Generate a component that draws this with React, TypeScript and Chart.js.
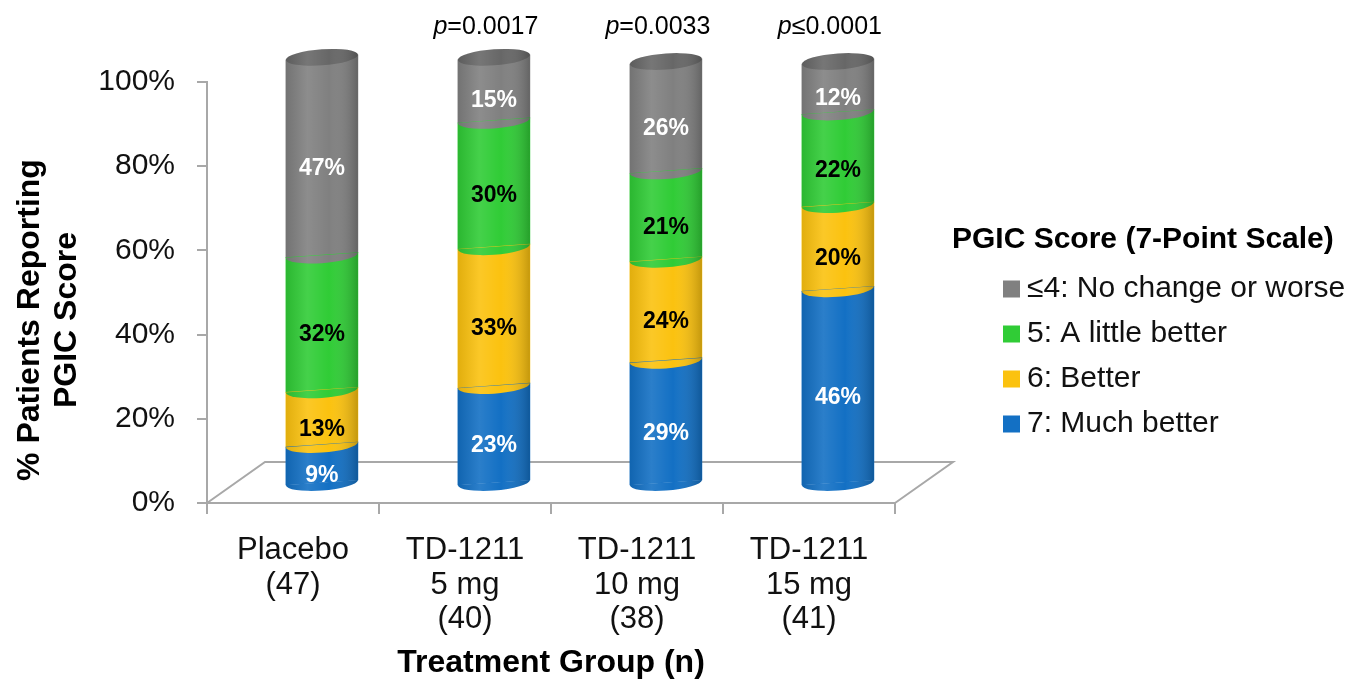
import React, { useEffect, useRef } from 'react';
import { Chart, registerables } from 'chart.js';

Chart.register(...registerables);

// ---------- data ----------
const categories = [
  ['Placebo', '(47)'],
  ['TD-1211', '5 mg', '(40)'],
  ['TD-1211', '10 mg', '(38)'],
  ['TD-1211', '15 mg', '(41)'],
];
const seriesNames = ['7: Much better', '6: Better', '5: A little better', '≤4: No change or worse'];
const muchBetter = [9, 23, 29, 46];
const better = [13, 33, 24, 20];
const littleBetter = [32, 30, 21, 22];
const noChangeOrWorse = [47, 15, 26, 12];
const pValues = ['', 'p=0.0017', 'p=0.0033', 'p≤0.0001'];
const yTicks = [0, 20, 40, 60, 80, 100];
const legendTitle = 'PGIC Score (7-Point Scale)';
const yTitle = ['% Patients Reporting', 'PGIC Score'];
const xTitle = 'Treatment Group (n)';

const seriesValues = [muchBetter, better, littleBetter, noChangeOrWorse];

// ---------- style ----------
const FONT = '"Liberation Sans", Arial, Helvetica, sans-serif';
const seriesColors = ['#1370c4', '#fbc20f', '#30cc36', '#808080'];
const labelColors = ['#ffffff', '#000000', '#000000', '#ffffff'];
const TOP_COLOR = '#676767';
const AXIS_COLOR = '#a8a8a8';
const DEPTH_X = 58;
const DEPTH_Y = 41;
const RY = 8;
const TILT = -0.07; // slight perspective shear of the cylinders
const Y_SHIFT = 4.87; // half floor depth, in % units
const X_SHIFT = 0.168; // half floor depth, in category units

function shadeGradient(ctx: CanvasRenderingContext2D, left: number, width: number) {
  const g = ctx.createLinearGradient(left, 0, left + width, 0);
  g.addColorStop(0, 'rgba(0,0,0,0.10)');
  g.addColorStop(0.3, 'rgba(255,255,255,0.10)');
  g.addColorStop(0.6, 'rgba(255,255,255,0)');
  g.addColorStop(1, 'rgba(0,0,0,0.22)');
  return g;
}

function shear(ctx: CanvasRenderingContext2D, cx: number) {
  ctx.transform(1, TILT, 0, 1, 0, -TILT * cx);
}

const cylinderPlugin = {
  id: 'cylinders',
  beforeDatasetsDraw(chart: any) {
    const ctx: CanvasRenderingContext2D = chart.ctx;
    const { left, right, bottom } = chart.chartArea;
    ctx.save();
    ctx.strokeStyle = AXIS_COLOR;
    ctx.lineWidth = 2;
    ctx.beginPath();
    ctx.moveTo(left, bottom);
    ctx.lineTo(left + DEPTH_X, bottom - DEPTH_Y);
    ctx.lineTo(right + DEPTH_X, bottom - DEPTH_Y);
    ctx.lineTo(right, bottom);
    ctx.stroke();
    ctx.restore();
    // draw every bar element with the cylinder's perspective shear
    chart.data.datasets.forEach((_: any, di: number) => {
      chart.getDatasetMeta(di).data.forEach((el: any) => {
        if (el.__sheared) return;
        const orig = el.draw.bind(el);
        el.draw = (c: CanvasRenderingContext2D, area: any) => {
          c.save();
          shear(c, el.x);
          orig(c, area);
          c.restore();
        };
        el.__sheared = true;
      });
    });
  },
  afterDatasetsDraw(chart: any) {
    const ctx: CanvasRenderingContext2D = chart.ctx;
    const n = chart.data.datasets.length;
    const getEls = (di: number) =>
      chart.getDatasetMeta(di).data.map((el: any) => el.getProps(['x', 'y', 'base', 'width'], true));
    // side shading of each segment
    for (let di = 0; di < n; di++) {
      getEls(di).forEach((p: any) => {
        const l = p.x - p.width / 2;
        ctx.save();
        shear(ctx, p.x);
        ctx.fillStyle = shadeGradient(ctx, l, p.width);
        ctx.fillRect(l, p.y, p.width, p.base - p.y);
        ctx.restore();
      });
    }
    // curved lower edges
    for (let di = 0; di < n; di++) {
      const color = chart.data.datasets[di].backgroundColor;
      getEls(di).forEach((p: any) => {
        const l = p.x - p.width / 2;
        ctx.save();
        shear(ctx, p.x);
        ctx.beginPath();
        ctx.ellipse(p.x, p.base, p.width / 2, RY, 0, 0, Math.PI);
        ctx.closePath();
        ctx.fillStyle = color;
        ctx.fill();
        ctx.fillStyle = shadeGradient(ctx, l, p.width);
        ctx.fill();
        ctx.restore();
      });
    }
    // top caps
    getEls(n - 1).forEach((p: any) => {
      const l = p.x - p.width / 2;
      ctx.save();
      shear(ctx, p.x);
      ctx.beginPath();
      ctx.ellipse(p.x, p.y, p.width / 2, RY, 0, 0, Math.PI * 2);
      ctx.fillStyle = TOP_COLOR;
      ctx.fill();
      ctx.fillStyle = shadeGradient(ctx, l, p.width);
      ctx.fill();
      ctx.restore();
    });
    ctx.save();
    // value labels
    ctx.font = `bold 23px ${FONT}`;
    ctx.textAlign = 'center';
    ctx.textBaseline = 'middle';
    for (let di = 0; di < n; di++) {
      const vals = chart.data.datasets[di].data;
      getEls(di).forEach((p: any, j: number) => {
        ctx.fillStyle = labelColors[di];
        ctx.fillText(`${vals[j].y}%`, p.x, (p.y + p.base) / 2 + RY + 4);
      });
    }
    // p-values
    const pTop = getEls(n - 1);
    ctx.textBaseline = 'middle';
    ctx.textAlign = 'left';
    pValues.forEach((txt, j) => {
      if (!txt) return;
      const first = txt.slice(0, 1);
      const rest = txt.slice(1);
      ctx.font = `italic 25px ${FONT}`;
      const w1 = ctx.measureText(first).width;
      ctx.font = `25px ${FONT}`;
      const w2 = ctx.measureText(rest).width;
      const cx = pTop[j].x - 8;
      const sx = cx - (w1 + w2) / 2;
      ctx.fillStyle = '#000';
      ctx.font = `italic 25px ${FONT}`;
      ctx.fillText(first, sx, 27);
      ctx.font = `25px ${FONT}`;
      ctx.fillText(rest, sx + w1, 27);
    });
    ctx.restore();
  },
  afterDraw(chart: any) {
    const ctx: CanvasRenderingContext2D = chart.ctx;
    ctx.save();
    // y axis title
    ctx.translate(30, 320);
    ctx.rotate(-Math.PI / 2);
    ctx.font = `bold 32px ${FONT}`;
    ctx.textAlign = 'center';
    ctx.textBaseline = 'middle';
    ctx.fillStyle = '#000';
    ctx.fillText(yTitle[0], 0, 0);
    ctx.fillText(yTitle[1], 0, 37);
    ctx.restore();

    // legend
    ctx.save();
    ctx.textAlign = 'left';
    ctx.textBaseline = 'middle';
    ctx.fillStyle = '#000';
    ctx.font = `bold 30px ${FONT}`;
    ctx.fillText(legendTitle, 952, 240);
    const n = chart.data.datasets.length;
    for (let k = 0; k < n; k++) {
      const ds = chart.data.datasets[n - 1 - k];
      const y = 289 + 45 * k;
      ctx.fillStyle = ds.backgroundColor;
      ctx.fillRect(1003, y - 8.5, 17, 17);
      ctx.fillStyle = '#111';
      ctx.font = `30px ${FONT}`;
      ctx.fillText(ds.label, 1027, y);
    }
    ctx.restore();
  },
};

export default function App() {
  const ref = useRef<HTMLCanvasElement>(null);
  useEffect(() => {
    const canvas = ref.current!;
    const chart = new Chart(canvas, {
      type: 'bar',
      data: {
        labels: categories as any,
        datasets: seriesValues.map((vals, i) => ({
          label: seriesNames[i],
          data: vals.map((v, j) => ({ x: j, y: v })),
          backgroundColor: seriesColors[i],
          borderWidth: 0,
          barThickness: 72,
          xAxisID: 'x2',
          yAxisID: 'y2',
          stack: 'pgic',
          clip: false,
        })),
      } as any,
      options: {
        responsive: false,
        animation: false,
        devicePixelRatio: 1,
        events: [],
        layout: { padding: { top: 82, right: 459, left: 0, bottom: 0 } },
        plugins: {
          legend: { display: false },
          tooltip: { enabled: false },
        },
        scales: {
          x: {
            type: 'category',
            position: 'bottom',
            offset: true,
            grid: {
              offset: true,
              drawOnChartArea: false,
              drawTicks: true,
              tickLength: 11,
              color: AXIS_COLOR,
              lineWidth: 2,
            },
            border: { display: true, color: AXIS_COLOR, width: 2 },
            ticks: {
              font: { family: FONT, size: 31, lineHeight: 1.12 },
              color: '#111',
              padding: 19,
              maxRotation: 0,
              autoSkip: false,
            },
            title: {
              display: true,
              text: xTitle,
              font: { family: FONT, size: 32, weight: 'bold', lineHeight: 1.0 },
              color: '#000',
              padding: { top: 0, bottom: 1 },
            },
            afterFit: (s: any) => {
              s.height = 177;
            },
          },
          y: {
            type: 'linear',
            position: 'left',
            min: 0,
            max: 100,
            afterBuildTicks: (s: any) => {
              s.ticks = yTicks.map((v) => ({ value: v }));
            },
            grid: {
              drawOnChartArea: false,
              drawTicks: true,
              tickLength: 10,
              color: AXIS_COLOR,
              lineWidth: 2,
            },
            border: { display: true, color: AXIS_COLOR, width: 2 },
            ticks: {
              font: { family: FONT, size: 30 },
              color: '#111',
              padding: 22,
              callback: (v: any) => `${v}%`,
            },
            afterFit: (s: any) => {
              s.width = 207;
            },
          },
          x2: {
            type: 'linear',
            display: false,
            offset: false,
            grid: { offset: false },
            min: -0.5 - X_SHIFT,
            max: 3.5 - X_SHIFT,
            stacked: true,
          },
          y2: {
            type: 'linear',
            display: false,
            min: -Y_SHIFT,
            max: 100 - Y_SHIFT,
            stacked: true,
          },
        },
      } as any,
      plugins: [cylinderPlugin],
    });
    return () => chart.destroy();
  }, []);
  return (
    <div style={{ position: 'fixed', left: 0, top: 0, width: 1354, height: 680, background: '#fff' }}>
      <canvas ref={ref} width={1354} height={680} style={{ display: 'block' }} />
    </div>
  );
}
